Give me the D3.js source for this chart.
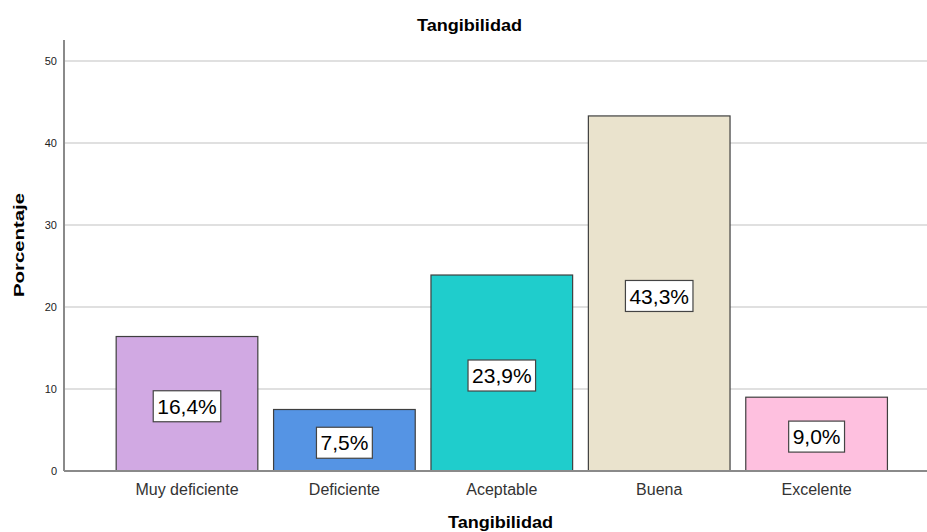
<!DOCTYPE html>
<html>
<head>
<meta charset="utf-8">
<script src="https://cdn.jsdelivr.net/npm/d3@7"></script>
<style>
  body { margin: 0; background: #fff; }
  svg { font-family: Arial, "Liberation Sans", sans-serif; }
</style>
</head>
<body>
<svg id="chart" width="927" height="532"></svg>
<script>
// Datos del gráfico
const categories = ["Muy deficiente", "Deficiente", "Aceptable", "Buena", "Excelente"];
const values = [16.4, 7.5, 23.9, 43.3, 9.0];
const labels = ["16,4%", "7,5%", "23,9%", "43,3%", "9,0%"];
const colors = ["#D1A9E3", "#5594E4", "#1FCDCC", "#EAE3CD", "#FEC0DF"];
const yTicks = [0, 10, 20, 30, 40, 50];

const svg = d3.select("#chart");
const plot = { left: 64, right: 927, top: 40, bottom: 471 };

const y = d3.scaleLinear().domain([0, 52.56]).range([plot.bottom, plot.top]);
const x = d3.scaleBand().domain(categories)
    .range([108.3, 895.3]).paddingInner(0.1).paddingOuter(0.05);

// Líneas de cuadrícula
svg.append("g").selectAll("line")
    .data(yTicks.filter(d => d > 0))
    .enter().append("line")
    .attr("x1", plot.left).attr("x2", plot.right)
    .attr("y1", d => y(d)).attr("y2", d => y(d))
    .attr("stroke", "#d6d6d6").attr("stroke-width", 1.5);

// Eje Y
const yAxis = svg.append("g")
    .attr("transform", `translate(${plot.left},0)`)
    .call(d3.axisLeft(y).tickValues(yTicks).tickSize(0).tickPadding(7));
yAxis.select(".domain").remove();
yAxis.selectAll("text").attr("font-size", 11).attr("fill", "#222")
    .attr("font-family", "Arial, 'Liberation Sans', sans-serif");

svg.append("line")
    .attr("x1", plot.left).attr("x2", plot.left)
    .attr("y1", plot.top).attr("y2", plot.bottom)
    .attr("stroke", "#8a8a8a").attr("stroke-width", 2);

// Barras
svg.append("g").selectAll("rect")
    .data(values)
    .enter().append("rect")
    .attr("x", (d, i) => x(categories[i]))
    .attr("y", d => y(d))
    .attr("width", x.bandwidth())
    .attr("height", d => y(0) - y(d))
    .attr("fill", (d, i) => colors[i])
    .attr("stroke", "#3f3f3f").attr("stroke-width", 1.2);

// Eje X (línea base)
svg.append("line")
    .attr("x1", plot.left).attr("x2", plot.right)
    .attr("y1", plot.bottom).attr("y2", plot.bottom)
    .attr("stroke", "#8a8a8a").attr("stroke-width", 2);

const xAxis = svg.append("g")
    .attr("transform", `translate(0,${plot.bottom})`)
    .call(d3.axisBottom(x).tickSize(0).tickPadding(13));
xAxis.select(".domain").remove();
xAxis.selectAll("text").attr("font-size", 16).attr("fill", "#333")
    .attr("font-family", "Arial, 'Liberation Sans', sans-serif");

// Etiquetas de valor con caja
const lab = svg.append("g").selectAll("g")
    .data(values)
    .enter().append("g")
    .attr("transform", (d, i) =>
        `translate(${x(categories[i]) + x.bandwidth() / 2},${(y(d) + y(0)) / 2 + 2.5})`);

lab.append("text")
    .attr("text-anchor", "middle")
    .attr("dy", "0.36em")
    .attr("font-size", 21)
    .attr("fill", "#000")
    .text((d, i) => labels[i]);

lab.each(function () {
    const g = d3.select(this);
    const bb = g.select("text").node().getBBox();
    g.insert("rect", "text")
        .attr("x", bb.x - 4).attr("y", -15.5)
        .attr("width", bb.width + 8).attr("height", 31)
        .attr("fill", "#fff").attr("stroke", "#444").attr("stroke-width", 1.2);
});

// Títulos
svg.append("text")
    .attr("x", 469.5).attr("y", 31)
    .attr("text-anchor", "middle")
    .attr("font-size", 17).attr("font-weight", "bold")
    .attr("textLength", 105).attr("lengthAdjust", "spacingAndGlyphs")
    .text("Tangibilidad");

svg.append("text")
    .attr("x", 500.5).attr("y", 528)
    .attr("text-anchor", "middle")
    .attr("font-size", 17).attr("font-weight", "bold")
    .attr("textLength", 105).attr("lengthAdjust", "spacingAndGlyphs")
    .text("Tangibilidad");

svg.append("text")
    .attr("transform", "translate(24,245) rotate(-90)")
    .attr("text-anchor", "middle")
    .attr("font-size", 15).attr("font-weight", "bold")
    .attr("textLength", 104).attr("lengthAdjust", "spacingAndGlyphs")
    .text("Porcentaje");
</script>
</body>
</html>
